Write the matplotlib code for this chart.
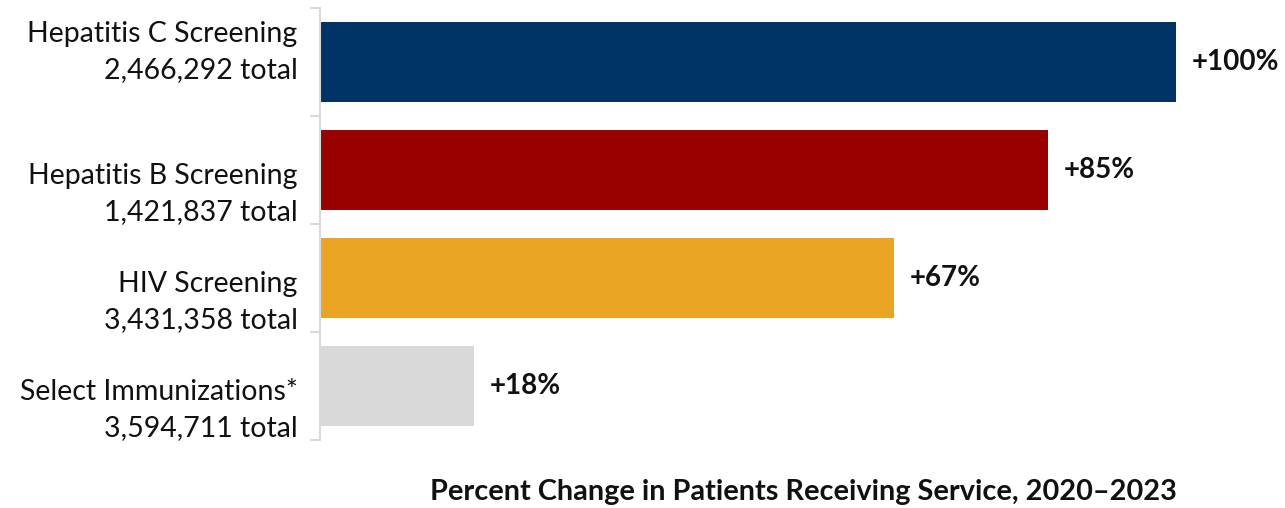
import matplotlib
matplotlib.use("Agg")
import matplotlib.pyplot as plt
import matplotlib.transforms as mtransforms

categories = ["Hepatitis C Screening", "Hepatitis B Screening", "HIV Screening", "Select Immunizations*"]
totals = ["2,466,292", "1,421,837", "3,431,358", "3,594,711"]
pct_change = [100, 85, 67, 18]
value_labels = ["+100%", "+85%", "+67%", "+18%"]
xlabel_text = "Percent Change in Patients Receiving Service, 2020\u20132023"

colors = ["#003366", "#990000", "#E9A426", "#D9D9D9"]
label_offsets = [-0.096, 0.222, 0.222, 0.222]  # vertical shift of category labels (slot units)

plt.rcParams['font.family'] = ['Lato', 'DejaVu Sans']

W, H = 1285, 508
fig = plt.figure(figsize=(W / 100, H / 100), dpi=100)
ax = fig.add_axes([320 / W, (H - 440) / H, (1176 - 320) / W, 432 / H])

ypos = list(range(len(categories)))
ax.barh(ypos, pct_change, height=0.74, color=colors, zorder=2)
ax.set_xlim(0, 100)
ax.set_ylim(len(categories) - 0.5, -0.5)

for s in ["top", "right", "bottom"]:
    ax.spines[s].set_visible(False)
ax.spines["left"].set_color("#D9D9D9")
ax.spines["left"].set_linewidth(1.5)
ax.set_xticks([])
ax.set_yticks([i - 0.5 for i in range(len(categories) + 1)])
ax.set_yticklabels([])
ax.tick_params(axis="y", length=7.5, width=1.5, color="#D9D9D9", direction="out")

trans = mtransforms.blended_transform_factory(ax.transAxes, ax.transData)
for i, (cat, tot) in enumerate(zip(categories, totals)):
    ax.text(-0.026, i + label_offsets[i], f"{cat}\n{tot} total", transform=trans,
            ha="right", va="center", fontsize=20.5, linespacing=1.48, color="#111111")

for i, (v, lab) in enumerate(zip(pct_change, value_labels)):
    ax.annotate(lab, xy=(v, i), xytext=(11.5, 0), textcoords="offset points",
                ha="left", va="center", fontsize=20, fontweight="bold", color="#111111")

fig.text(1177 / W, (H - 492) / H, xlabel_text, ha="right", va="center",
         fontsize=20.8, fontweight="bold", color="#111111")

fig.savefig("out.png", dpi=100)
